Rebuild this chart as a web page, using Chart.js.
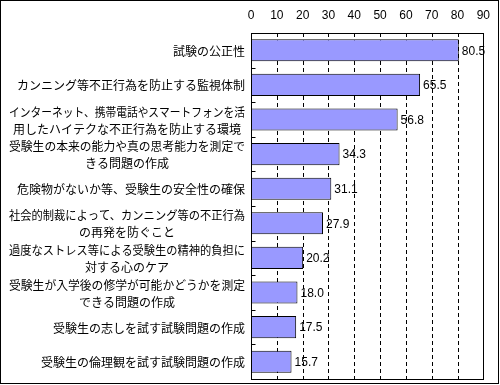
<!DOCTYPE html>
<html>
<head>
<meta charset="utf-8">
<script src="https://cdn.jsdelivr.net/npm/chart.js@4/dist/chart.umd.min.js"></script>
<style>
html,body{margin:0;padding:0;background:#fff;}
canvas{display:block;}
</style>
</head>
<body>
<canvas id="c" width="500" height="385"></canvas>
<script>
const categories = [
  ["試験の公正性"],
  ["カンニング等不正行為を防止する監視体制"],
  ["インターネット、携帯電話やスマートフォンを活", "用したハイテクな不正行為を防止する環境"],
  ["受験生の本来の能力や真の思考能力を測定で", "きる問題の作成"],
  ["危険物がないか等、受験生の安全性の確保"],
  ["社会的制裁によって、カンニング等の不正行為", "の再発を防ぐこと"],
  ["過度なストレス等による受験生の精神的負担に", "対する心のケア"],
  ["受験生が入学後の修学が可能かどうかを測定", "できる問題の作成"],
  ["受験生の志しを試す試験問題の作成"],
  ["受験生の倫理観を試す試験問題の作成"]
];
const values = [80.5, 65.5, 56.8, 34.3, 31.1, 27.9, 20.2, 18.0, 17.5, 15.7];
const axisMin = 0;
const axisMax = 90;
const axisStep = 10;

const LABEL_FONT = '12px "Noto Sans CJK JP", sans-serif';
const NUM_FONT = '12px "Liberation Sans", Arial, sans-serif';
const MAX_LABEL_W = 236;

const decor = {
  id: 'decor',
  beforeDatasetsDraw(chart) {
    const ctx = chart.ctx;
    const a = chart.chartArea;
    const xs = chart.scales.x;
    ctx.save();
    ctx.strokeStyle = '#000';
    ctx.lineWidth = 1;
    ctx.setLineDash([4, 3]);
    ctx.beginPath();
    xs.ticks.forEach(t => {
      if (t.value === axisMin || t.value === axisMax) return;
      const x = Math.round(xs.getPixelForValue(t.value)) + 0.5;
      ctx.moveTo(x, Math.round(a.top));
      ctx.lineTo(x, Math.round(a.bottom));
    });
    ctx.stroke();
    ctx.restore();
  },
  afterDatasetsDraw(chart) {
    const ctx = chart.ctx;
    const a = chart.chartArea;
    const ys = chart.scales.y;
    ctx.save();
    // value labels
    ctx.font = NUM_FONT;
    ctx.fillStyle = '#000';
    ctx.textAlign = 'left';
    ctx.textBaseline = 'middle';
    chart.getDatasetMeta(0).data.forEach((bar, i) => {
      ctx.fillText(values[i].toFixed(1), bar.x + 3, bar.y + 1);
    });
    // category labels
    ctx.font = LABEL_FONT;
    ctx.textAlign = 'center';
    const lh = 17;
    categories.forEach((lines, i) => {
      const y = ys.getPixelForValue(i);
      const w = Math.min(MAX_LABEL_W, Math.max(...lines.map(l => ctx.measureText(l).width)));
      const cx = a.left - 6 - w / 2;
      const y0 = y - (lines.length - 1) * lh / 2;
      lines.forEach((l, k) => ctx.fillText(l, cx, y0 + k * lh + 1, MAX_LABEL_W));
    });
    // plot border
    ctx.strokeStyle = '#000';
    ctx.lineWidth = 1;
    const L = Math.round(a.left) + 0.5, T = Math.round(a.top) + 0.5;
    const R = Math.round(a.right) + 0.5, B = Math.round(a.bottom) + 0.5;
    ctx.strokeRect(L, T, R - L, B - T);
    // inner category ticks
    const n = categories.length;
    const step = (a.bottom - a.top) / n;
    ctx.beginPath();
    for (let k = 0; k <= n; k++) {
      const yy = Math.round(a.top + k * step) + 0.5;
      ctx.moveTo(L, yy);
      ctx.lineTo(L + 4, yy);
    }
    ctx.stroke();
    // outer frame
    ctx.strokeRect(0.5, 0.5, 498, 383);
    ctx.restore();
  }
};

new Chart(document.getElementById('c'), {
  type: 'bar',
  data: {
    labels: categories,
    datasets: [{
      data: values,
      backgroundColor: '#9999FF',
      borderColor: '#000',
      borderWidth: 1,
      borderSkipped: false,
      barPercentage: 0.64,
      categoryPercentage: 1.0
    }]
  },
  options: {
    indexAxis: 'y',
    responsive: false,
    animation: false,
    devicePixelRatio: 1,
    layout: { padding: { left: 251, right: 12, top: 8, bottom: 6 } },
    plugins: { legend: { display: false }, tooltip: { enabled: false } },
    scales: {
      x: {
        position: 'top',
        min: axisMin,
        max: axisMax,
        ticks: { stepSize: axisStep, color: '#000', font: { family: '"Liberation Sans", Arial, sans-serif', size: 12 }, padding: 10 },
        grid: { display: false, drawTicks: false },
        border: { display: false },
        afterFit(s) { s.height = 25; }
      },
      y: {
        display: false,
        offset: true
      }
    }
  },
  plugins: [decor]
});
</script>
</body>
</html>
